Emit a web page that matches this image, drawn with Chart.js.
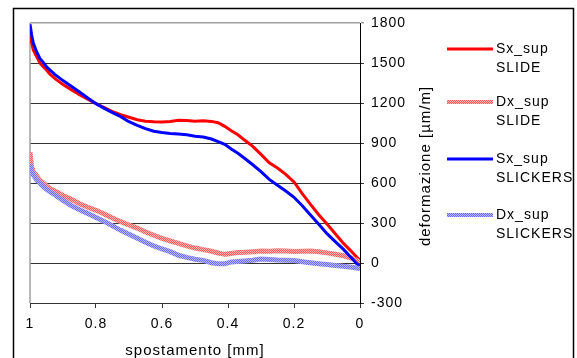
<!DOCTYPE html>
<html>
<head>
<meta charset="utf-8">
<script src="https://cdn.jsdelivr.net/npm/chart.js@4.4.1/dist/chart.umd.min.js"></script>
<style>
  html, body { margin: 0; padding: 0; background: #fff; }
  #wrap { width: 577px; height: 358px; }
</style>
</head>
<body>
<div id="wrap"><canvas id="c" width="577" height="358"></canvas></div>
<script>
// displacement [mm], shared by all four traces
const spostamento = [1, 0.995, 0.99, 0.98, 0.97, 0.96, 0.95, 0.94, 0.925, 0.9, 0.875, 0.85, 0.825, 0.8,
  0.775, 0.75, 0.725, 0.7, 0.675, 0.65, 0.625, 0.6, 0.575, 0.55, 0.525, 0.5, 0.475, 0.45, 0.43, 0.41,
  0.39, 0.37, 0.35, 0.325, 0.3, 0.275, 0.25, 0.225, 0.2, 0.175, 0.15, 0.125, 0.1, 0.075, 0.05, 0.025, 0.01, 0];

// strain [µm/m]
const sxSupSlide = [1700, 1650, 1597, 1548, 1500, 1472, 1447, 1417, 1385, 1338, 1300, 1262, 1228, 1195,
  1165, 1136, 1112, 1093, 1074, 1064, 1060, 1058, 1062, 1070, 1068, 1064, 1066, 1062, 1052, 1025,
  992, 962, 922, 875, 815, 752, 712, 665, 608, 520, 440, 362, 292, 220, 147, 85, 45, 20];

const dxSupSlide = [830, 723, 685, 655, 620, 600, 578, 560, 540, 506, 478, 445, 418, 395,
  368, 338, 310, 285, 262, 232, 208, 185, 165, 147, 128, 112, 100, 88, 75, 65,
  72, 78, 80, 85, 90, 88, 92, 90, 86, 88, 90, 84, 76, 66, 54, 35, 20, 8];

const sxSupSlickers = [1790, 1710, 1650, 1585, 1535, 1505, 1472, 1448, 1415, 1368, 1325, 1283, 1238, 1195,
  1160, 1128, 1098, 1060, 1032, 1008, 988, 978, 972, 968, 962, 950, 945, 930, 910, 890,
  855, 823, 786, 737, 685, 627, 583, 540, 493, 430, 360, 290, 220, 160, 102, 35, -5, -25];

const dxSupSlickers = [740, 690, 660, 625, 600, 575, 553, 535, 512, 470, 430, 400, 372, 342,
  312, 278, 245, 215, 185, 155, 128, 105, 85, 58, 42, 28, 20, 2, -5, -6,
  8, 12, 15, 20, 30, 26, 22, 20, 18, 10, 2, -5, -12, -18, -25, -32, -38, -42];

const seriesNames = [['Sx_sup', 'SLIDE'], ['Dx_sup', 'SLIDE'], ['Sx_sup', 'SLICKERS'], ['Dx_sup', 'SLICKERS']];
const xTitle = 'spostamento [mm]';
const yTitle = 'deformazione [µm/m]';

const FONT = '"Liberation Sans", Arial, sans-serif';

// dithered fill used for the two "Dx" traces
function dither(c1, c2) {
  const p = document.createElement('canvas');
  p.width = 2; p.height = 2;
  const g = p.getContext('2d');
  g.fillStyle = c2; g.fillRect(0, 0, 2, 2);
  g.fillStyle = c1; g.fillRect(0, 0, 1, 1); g.fillRect(1, 1, 1, 1);
  return g.createPattern(p, 'repeat');
}

const ctx = document.getElementById('c').getContext('2d');
const pinkPattern = dither('#ff5a5a', '#ffb4b4');
const lilacPattern = dither('#6a6aff', '#b8b8ff');

function pts(ys) { return spostamento.map((x, i) => ({ x: x, y: ys[i] })); }

const styles = [
  { color: '#ff0000', width: 3, order: 4 },
  { color: pinkPattern, width: 5, order: 3 },
  { color: '#0000ff', width: 3, order: 2 },
  { color: lilacPattern, width: 5, order: 1 }
];
const values = [sxSupSlide, dxSupSlide, sxSupSlickers, dxSupSlickers];

const datasets = values.map((v, i) => ({
  label: seriesNames[i].join(' '),
  data: pts(v),
  borderColor: styles[i].color,
  backgroundColor: styles[i].color,
  borderWidth: styles[i].width,
  pointRadius: 0,
  tension: 0,
  fill: false,
  order: styles[i].order
}));

const frame = {
  id: 'frame',
  beforeDraw(chart) {
    const c = chart.ctx;
    c.save();
    c.fillStyle = '#fff';
    c.fillRect(0, 0, chart.width, chart.height);
    c.strokeStyle = '#000';
    c.lineWidth = 1.5;
    c.strokeRect(13.5, 8.5, 560, 400);
    c.restore();
    c.letterSpacing = '1px';
  },
  beforeDatasetsDraw(chart) {
    const a = chart.chartArea;
    const c = chart.ctx;
    c.save();
    c.strokeStyle = '#a0a0a0';
    c.lineWidth = 1.5;
    c.beginPath();
    c.moveTo(a.left, a.top);
    c.lineTo(a.left, a.bottom);
    c.stroke();
    c.restore();
  },
  afterDraw(chart) {
    const c = chart.ctx;
    const a = chart.chartArea;
    c.save();
    c.fillStyle = '#000';
    c.letterSpacing = '1px';
    // axis titles
    c.font = '15px ' + FONT;
    c.textAlign = 'center';
    c.textBaseline = 'middle';
    c.fillText(xTitle, (a.left + a.right) / 2, 351);
    c.save();
    c.translate(426, 166);
    c.rotate(-Math.PI / 2);
    c.fillText(yTitle, 0, 0);
    c.restore();
    // legend
    const rows = [49, 102, 159, 215];
    c.font = '14px ' + FONT;
    c.textAlign = 'left';
    chart.data.datasets.forEach((ds, i) => {
      const y = rows[i];
      c.strokeStyle = ds.borderColor;
      c.lineWidth = i % 2 ? 4 : 3;
      c.beginPath();
      c.moveTo(447, y);
      c.lineTo(493, y);
      c.stroke();
      c.fillText(seriesNames[i][0], 496, y);
      c.fillText(seriesNames[i][1], 496, y + 19);
    });
    c.restore();
  }
};

new Chart(ctx, {
  type: 'line',
  data: { datasets: datasets },
  plugins: [frame],
  options: {
    responsive: false,
    animation: false,
    devicePixelRatio: 1,
    layout: { padding: { left: 30, top: 23, right: 0, bottom: 0 } },
    plugins: { legend: { display: false }, tooltip: { enabled: false } },
    scales: {
      x: {
        type: 'linear',
        position: 'bottom',
        reverse: true,
        min: 0,
        max: 1,
        afterFit(s) { s.height = 55; },
        ticks: {
          stepSize: 0.2,
          padding: 8,
          color: '#000',
          font: { family: FONT, size: 14 },
          maxRotation: 0,
          callback: v => String(+v.toFixed(1))
        },
        grid: { drawOnChartArea: false, drawTicks: true, tickLength: 5, color: '#333' },
        border: { display: true, color: '#333', width: 1 }
      },
      y: {
        type: 'linear',
        position: 'right',
        min: -300,
        max: 1800,
        afterFit(s) { s.width = 217; },
        ticks: {
          stepSize: 300,
          padding: 7,
          color: '#000',
          font: { family: FONT, size: 14 },
          callback: v => String(v)
        },
        grid: {
          tickLength: 4,
          color: c => (c.tick && c.tick.value === 1800 ? '#a0a0a0' : '#333'),
          lineWidth: c => (c.tick && c.tick.value === 1800 ? 1.5 : 1)
        },
        border: { display: true, color: '#000', width: 1 }
      }
    }
  }
});
</script>
</body>
</html>
